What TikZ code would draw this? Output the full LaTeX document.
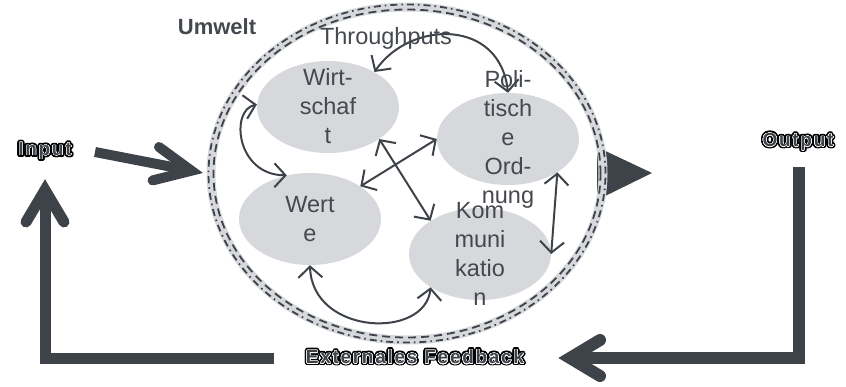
\documentclass[tikz,border=0pt]{standalone}
\usepackage{fontspec}
\setmainfont{Liberation Sans}
\newfontfamily\olfont[LetterSpace=9]{Liberation Sans}
\usepackage[copies]{contour}
\contournumber{20}
\usetikzlibrary{arrows.meta,shapes.geometric}
\definecolor{dk}{HTML}{3E434A}
\definecolor{lg}{HTML}{D6D8DC}
\definecolor{tx}{HTML}{45494F}
\newcommand\oltext[1]{\rlap{\contourlength{2.2pt}\contour{black}{\color{black}#1}}\rlap{\contourlength{0.45pt}\contour{white}{\color{white}#1}}{\color{dk}#1}}
\tikzset{
  blob/.style={ellipse, fill=lg, inner sep=0pt, minimum width=142pt, minimum height=92pt},
  ntext/.style={align=center, text=tx, font=\fontsize{23.5}{29}\selectfont},
  thinarr/.style={draw=dk, line width=2pt,
    {Straight Barb[length=11pt,width=24pt]}-{Straight Barb[length=11pt,width=24pt]}},
  bigline/.style={draw=dk, line join=miter},
  bighead/.style={draw=dk, line cap=round, line join=miter},
  oltxt/.style={inner sep=0pt, font=\olfont\bfseries\fontsize{19}{22}\selectfont},
}
\begin{document}
\begin{tikzpicture}[x=1pt,y=-1pt]
\useasboundingbox (0,0) rectangle (846,386);

% thick feedback loop
\coordinate (outtop) at (799,167);
\coordinate (outcorner) at (799,358);
\coordinate (fbR) at (570,358);
\coordinate (fbRa) at (600,340);
\coordinate (fbRb) at (600,376);
\draw[bigline, line width=12pt] (outtop) -- (outcorner) -- (fbR);
\draw[bighead, line width=12pt] (fbRa) -- (fbR) -- (fbRb);

\coordinate (fbL) at (274,358);
\coordinate (incorner) at (45,358);
\coordinate (inup) at (45,190);
\coordinate (inupa) at (26,222);
\coordinate (inupb) at (64,222);
\draw[bigline, line width=11pt] (fbL) -- (incorner) -- (inup);
\draw[bighead, line width=11pt] (inupa) -- (inup) -- (inupb);

% input arrow
\coordinate (inS) at (95,152);
\coordinate (inT) at (191.4,170.7);
\coordinate (inTa) at (159,147);
\coordinate (inTb) at (152.6,180.4);
\draw[bigline, line width=10pt] (inS) -- (inT);
\draw[bighead, line width=10pt] (inTa) -- (inT) -- (inTb);

% output arrow head
\coordinate (oA) at (597,147);
\coordinate (oT) at (652,173);
\coordinate (oB) at (597,200);
\fill[dk] (oA) -- (oT) -- (oB) -- cycle;

% environment boundary
\coordinate (env) at (407,173.5);
\draw[lg, line width=9pt] (env) ellipse [x radius=196pt, y radius=166.5pt];
\draw[dk, line width=1.8pt, dash pattern=on 7pt off 4pt on 1.6pt off 4pt] (env) ellipse [x radius=198.5pt, y radius=169pt];
\draw[dk, line width=1.8pt, dash pattern=on 8pt off 5pt] (env) ellipse [x radius=193.5pt, y radius=164pt];

% subsystems
\node[blob] (w) at (328,107) {};
\node[blob] (p) at (508,139) {};
\node[blob] (we) at (310,219) {};
\node[blob] (k) at (480,254) {};

\node[ntext] (wt) at (328,106) {Wirt-\\schaf\\t};
\node[ntext] (pt) at (508,139) {Poli-\\tisch\\e\\Ord-\\nung};
\node[ntext] (wet) at (310,219) {Wert\\e};
\node[ntext] (kt) at (480,254) {Kom\\muni\\katio\\n};

% inner connectors
\draw[thinarr] (w.37) .. controls (410,20) and (500,18) .. (p.north);
\draw[thinarr] (w.178) .. controls (230,110) and (236,175) .. (we.118);
\draw[thinarr] (we.33) -- (p.west);
\draw[thinarr] (w.-32) -- (k.146);
\draw[thinarr] (p.-34) -- (k.east);
\draw[thinarr] (we.south) .. controls (312,335) and (425,340) .. (k.214);

% labels
\node[ntext] (thr) at (386,38) {Throughputs};
\node[text=tx, font=\bfseries\fontsize{22}{26}\selectfont] (umw) at (217,27) {Umwelt};
\node[oltxt] (inp) at (45,152) {\oltext{Input}};
\node[oltxt] (outp) at (798,143) {\oltext{Output}};
\node[oltxt] (fb) at (415,358) {\oltext{Externales Feedback}};
\end{tikzpicture}
\end{document}
